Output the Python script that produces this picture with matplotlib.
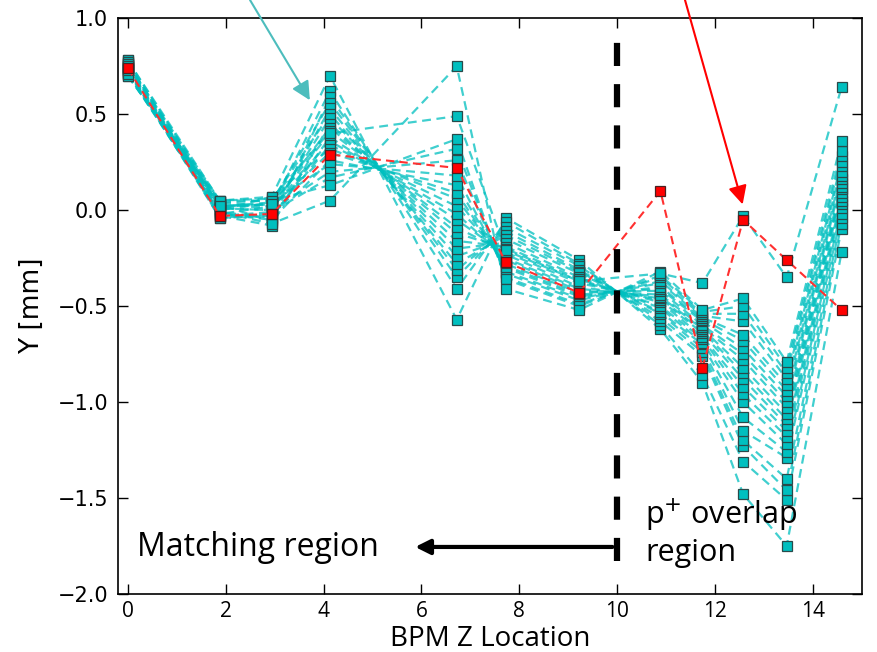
import matplotlib
matplotlib.use("Agg")
import matplotlib.pyplot as plt
import numpy as np

# BPM positions
bpm_z = [0.0, 1.88, 2.94, 4.13, 6.72, 7.72, 9.22, 10.88, 11.74, 12.57, 13.46, 14.58]

# cyan series values per BPM (index = series)
y_b00 = [0.78,0.71,0.76,0.73,0.75,0.70,0.77,0.72,0.74,0.76,0.71,0.78,0.73,0.75,0.70,0.77,0.72,0.74,0.76,0.71,0.73,0.75]
y_b01 = [0.05,-0.02,0.03,0.00,-0.04,0.04,0.01,-0.03,0.02,0.05,-0.01,0.03,-0.04,0.00,0.04,-0.02,0.02,0.01,-0.03,0.05,-0.01,0.02]
y_b02 = [0.07,0.02,-0.06,0.04,-0.02,0.05,0.00,-0.08,0.03,0.06,-0.04,0.01,-0.03,0.07,0.02,-0.05,0.04,0.00,-0.01,0.05,-0.07,0.03]
y_b03 = [0.70,0.62,0.59,0.56,0.53,0.50,0.48,0.45,0.43,0.41,0.38,0.36,0.34,0.32,0.30,0.26,0.24,0.20,0.17,0.13,0.05,0.40]
y_b04 = [-0.57,-0.41,-0.35,-0.31,-0.28,-0.24,-0.20,-0.16,-0.12,-0.09,-0.05,-0.02,0.02,0.06,0.09,0.13,0.18,0.26,0.32,0.37,0.75,0.49]
y_b05 = [-0.04,-0.06,-0.09,-0.11,-0.13,-0.15,-0.17,-0.19,-0.20,-0.22,-0.23,-0.25,-0.26,-0.28,-0.29,-0.30,-0.32,-0.33,-0.35,-0.36,-0.41,-0.21]
y_b06 = [-0.26,-0.28,-0.29,-0.31,-0.32,-0.33,-0.35,-0.36,-0.37,-0.38,-0.40,-0.41,-0.42,-0.43,-0.44,-0.45,-0.46,-0.47,-0.49,-0.50,-0.52,-0.37]
y_b07 = [-0.62,-0.60,-0.58,-0.56,-0.54,-0.53,-0.51,-0.50,-0.48,-0.47,-0.46,-0.45,-0.44,-0.42,-0.41,-0.40,-0.38,-0.37,-0.35,-0.34,-0.32,-0.33]
y_b08 = [-0.90,-0.86,-0.76,-0.74,-0.72,-0.70,-0.69,-0.67,-0.66,-0.64,-0.63,-0.62,-0.61,-0.60,-0.58,-0.57,-0.56,-0.55,-0.54,-0.53,-0.52,-0.38]
y_b09 = [-1.48,-1.31,-1.23,-1.20,-1.15,-1.08,-1.00,-0.96,-0.92,-0.88,-0.85,-0.82,-0.78,-0.75,-0.72,-0.68,-0.65,-0.58,-0.54,-0.50,-0.46,-0.03]
y_b10 = [-1.75,-1.51,-1.46,-1.40,-1.29,-1.26,-1.22,-1.18,-1.15,-1.12,-1.09,-1.06,-1.03,-1.00,-0.97,-0.94,-0.91,-0.88,-0.85,-0.82,-0.79,-0.35]
y_b11 = [-0.22,-0.10,-0.07,-0.04,-0.02,0.01,0.03,0.05,0.07,0.09,0.11,0.12,0.14,0.16,0.18,0.20,0.23,0.25,0.28,0.31,0.36,0.64]

# reference (red) orbit
y_red = [0.74, -0.03, -0.02, 0.29, 0.22, -0.27, -0.43, 0.10, -0.82, -0.05, -0.26, -0.52]

x_ticks = [0, 2, 4, 6, 8, 10, 12, 14]
y_ticks = [-2.0, -1.5, -1.0, -0.5, 0.0, 0.5, 1.0]

cols = [y_b00, y_b01, y_b02, y_b03, y_b04, y_b05, y_b06, y_b07, y_b08, y_b09, y_b10, y_b11]
Y = np.array(cols).T  # series x bpm

fig = plt.figure(figsize=(8.77, 6.52), dpi=100)
ax = fig.add_axes([0.1345, 0.089, 0.8485, 0.883])

cyan = '#00BFBF'
for row in Y:
    ax.plot(bpm_z, row, linestyle=(0, (4, 2.5)), color=cyan, lw=1.6, alpha=0.75, zorder=2)
for row in Y:
    ax.plot(bpm_z, row, linestyle='none', marker='s', ms=7.5, mfc=cyan,
            mec='#2a4a4a', mew=0.9, zorder=3)
ax.plot(bpm_z, y_red, linestyle=(0, (4, 2.5)), color='#ff3030', lw=1.5, zorder=4)
ax.plot(bpm_z, y_red, linestyle='none', marker='s', ms=7.5, mfc='red',
        mec='#4a2020', mew=0.9, zorder=5)

# vertical dashed separator
ax.plot([10, 10], [-1.83, 0.89], color='black', lw=4.5, linestyle=(0, (3.7, 2.9)), zorder=6)

ax.set_xlim(-0.2, 15)
ax.set_ylim(-2.0, 1.0)
ax.set_xticks(x_ticks)
ax.set_yticks(y_ticks)
ax.tick_params(direction='in', top=True, right=True, length=7, width=1)
for lab in ax.get_xticklabels():
    lab.set_fontfamily('Open Sans')
    lab.set_fontsize(15)
for lab in ax.get_yticklabels():
    lab.set_fontfamily('DejaVu Sans')
    lab.set_fontsize(15)
ax.tick_params(axis='x', pad=5)
ax.tick_params(axis='y', pad=7)
for s in ax.spines.values():
    s.set_linewidth(1.2)

ax.set_xlabel('BPM Z Location', fontfamily='Open Sans', fontsize=20, labelpad=2)
ax.set_ylabel('Y [mm]', fontfamily='DejaVu Sans', fontsize=19, labelpad=9)

# annotations
ax.text(0.18, -1.76, 'Matching region', fontfamily='Open Sans', fontsize=23,
        va='center', ha='left', zorder=7)
ax.annotate('', xy=(5.87, -1.755), xytext=(9.9, -1.755),
            arrowprops=dict(arrowstyle='-|>', color='black', lw=3,
                            mutation_scale=22, shrinkA=0, shrinkB=0), zorder=7)
ax.text(10.57, -1.68, 'p$^{+}$ overlap\nregion', fontfamily='Open Sans', fontsize=22,
        va='center', ha='left', linespacing=1.2, zorder=7)

ax.annotate('', xy=(3.72, 0.573), xycoords='data',
            xytext=(250/877, 1.0), textcoords='figure fraction',
            arrowprops=dict(arrowstyle='-|>', color='#4dbdbd', lw=1.5,
                            mutation_scale=28, shrinkA=0, shrinkB=0),
            annotation_clip=False, zorder=8)
ax.annotate('', xy=(12.56, 0.03), xycoords='data',
            xytext=(685/877, 1.0), textcoords='figure fraction',
            arrowprops=dict(arrowstyle='-|>', color='red', lw=1.5,
                            mutation_scale=28, shrinkA=0, shrinkB=0),
            annotation_clip=False, zorder=8)

fig.savefig('out.png', dpi=100, facecolor='white')
